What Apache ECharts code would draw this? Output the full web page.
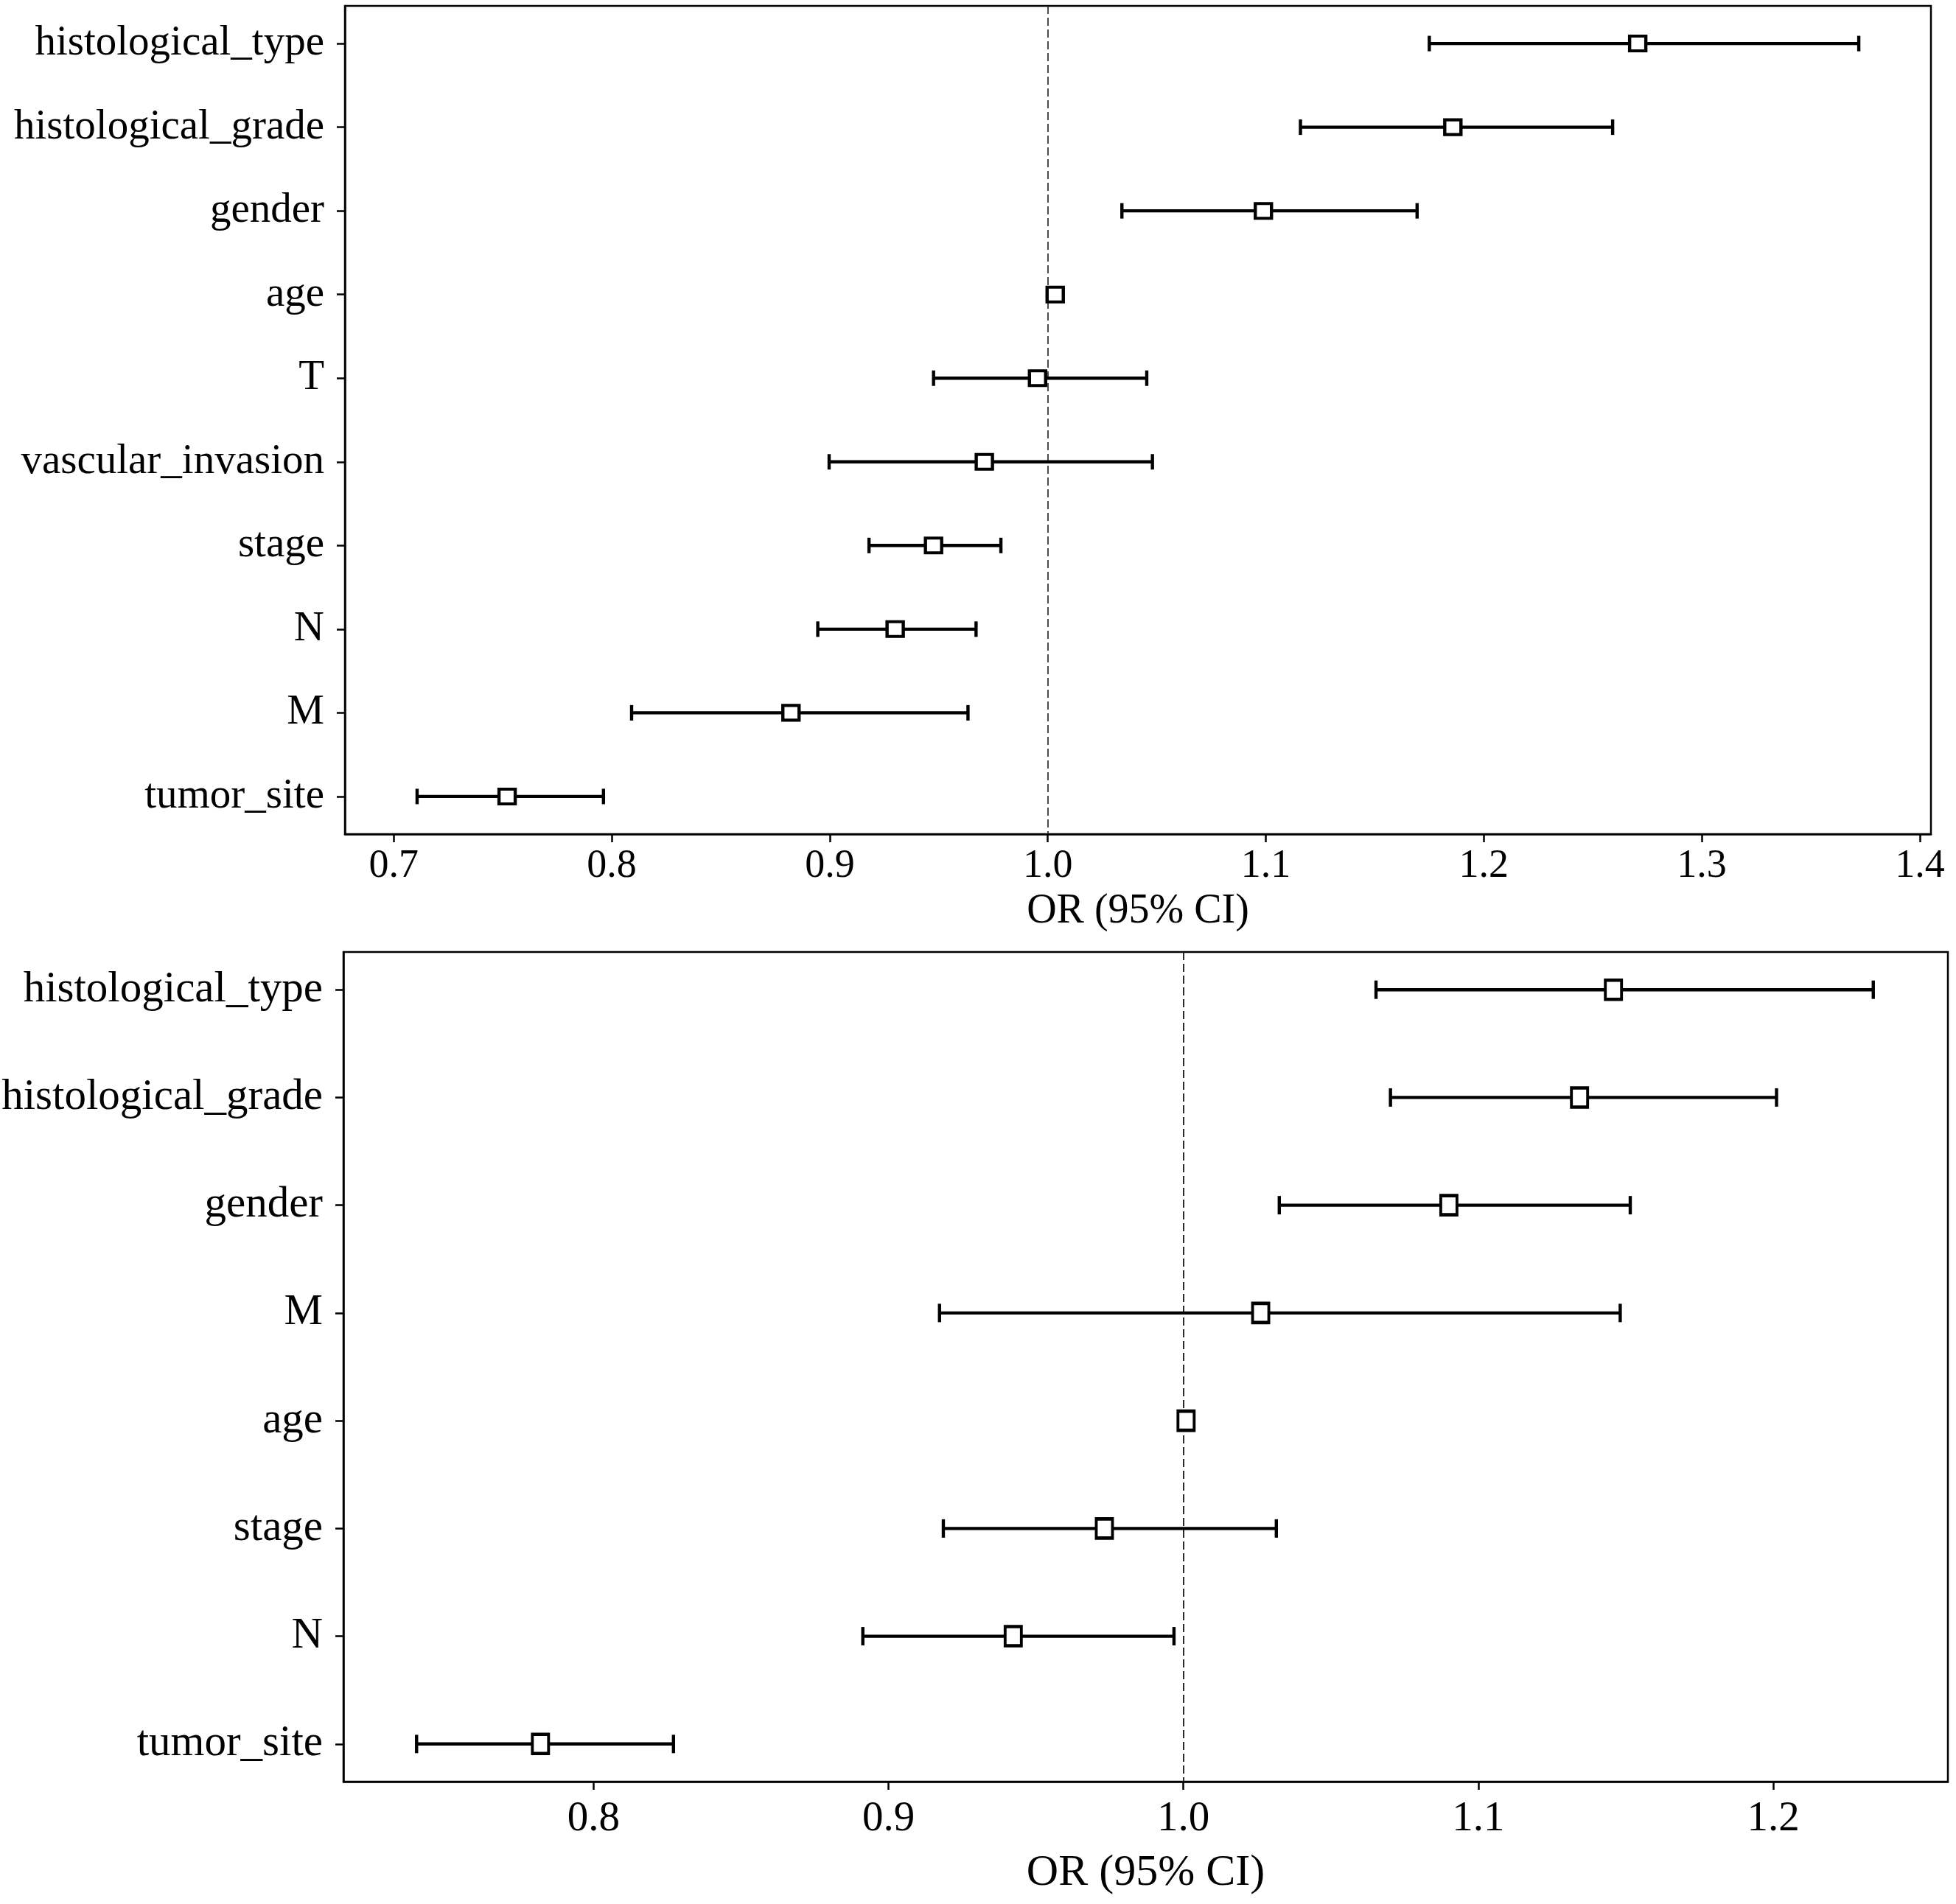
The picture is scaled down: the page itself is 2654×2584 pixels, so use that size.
<!DOCTYPE html>
<html lang="en">
<head>
    <meta charset="UTF-8">
    <title>OR forest plots</title>
    <style>
        html, body {margin: 0; padding: 0; background: #fff;}
        #main {width: 2654px; height: 2584px;}
    </style>
</head>
<body>
<div id="main"></div>
<script src="https://cdn.jsdelivr.net/npm/echarts@6/dist/echarts.min.js"></script>
<script type="text/javascript">
// upper panel, listed top to bottom
var topCats = ['histological_type', 'histological_grade', 'gender', 'age', 'T',
    'vascular_invasion', 'stage', 'N', 'M', 'tumor_site'];
var topOR   = [1.2706, 1.1858, 1.0989, 1.0034, 0.9953, 0.9709, 0.9476, 0.9300, 0.8822, 0.7520];
var topLow  = [1.1750, 1.1159, 1.0340, 1.0010, 0.9476, 0.8997, 0.9180, 0.8945, 0.8091, 0.7107];
var topHigh = [1.3720, 1.2591, 1.1694, 1.0060, 1.0454, 1.0480, 0.9785, 0.9671, 0.9634, 0.7962];
var topTicks = [0.7, 0.8, 0.9, 1.0, 1.1, 1.2, 1.3, 1.4];

// lower panel, listed top to bottom
var botCats = ['histological_type', 'histological_grade', 'gender', 'M', 'age',
    'stage', 'N', 'tumor_site'];
var botOR   = [1.1458, 1.1343, 1.0900, 1.0262, 1.0009, 0.9732, 0.9423, 0.7820];
var botLow  = [1.0653, 1.0702, 1.0325, 0.9173, 0.9990, 0.9186, 0.8913, 0.7400];
var botHigh = [1.2339, 1.2011, 1.1515, 1.1481, 1.0030, 1.0315, 0.9968, 0.8271];
var botTicks = [0.8, 0.9, 1.0, 1.1, 1.2];

var FONT = 'Liberation Serif';

function range(n) {
    var a = [];
    for (var i = 0; i < n; i++) a.push(i);
    return a;
}

// horizontal error bar with end caps
function errBar(capHalf, lw) {
    return function (params, api) {
        var y = api.value(2);
        var a = api.coord([api.value(0), y]);
        var b = api.coord([api.value(1), y]);
        var st = {stroke: '#000', lineWidth: lw};
        return {
            type: 'group',
            children: [
                {type: 'line', shape: {x1: a[0], y1: a[1], x2: b[0], y2: b[1]}, style: st},
                {type: 'line', shape: {x1: a[0], y1: a[1] - capHalf, x2: a[0], y2: a[1] + capHalf}, style: st},
                {type: 'line', shape: {x1: b[0], y1: b[1] - capHalf, x2: b[0], y2: b[1] + capHalf}, style: st}
            ]
        };
    };
}

function xAxisOf(idx, min, max, ticks, labelSize, labelMargin, nameSize, nameGap) {
    return {
        type: 'value', gridIndex: idx, min: min, max: max,
        name: 'OR (95% CI)', nameLocation: 'middle', nameGap: nameGap,
        nameTextStyle: {fontFamily: FONT, fontSize: nameSize, color: '#000'},
        axisLine: {show: true, onZero: false, lineStyle: {color: '#000', width: 2.5}},
        axisTick: {show: true, length: 11, customValues: ticks, lineStyle: {color: '#000', width: 2.5}},
        axisLabel: {
            customValues: ticks, margin: labelMargin,
            fontFamily: FONT, fontSize: labelSize, color: '#000',
            formatter: function (v) { return v.toFixed(1); }
        },
        splitLine: {show: false}
    };
}

function yAxisOf(idx, cats, pad, labelSize) {
    return {
        type: 'value', gridIndex: idx, inverse: true,
        min: -pad, max: cats.length - 1 + pad,
        axisLine: {show: true, onZero: false, lineStyle: {color: '#000', width: 2.5}},
        axisTick: {show: true, length: 11, customValues: range(cats.length), lineStyle: {color: '#000', width: 2.5}},
        axisLabel: {
            customValues: range(cats.length), margin: 28,
            fontFamily: FONT, fontSize: labelSize, color: '#000',
            formatter: function (v) { return cats[v]; }
        },
        splitLine: {show: false}
    };
}

function panel(idx, ors, lows, highs, capHalf, lw, markSize, dashW) {
    return [
        {
            type: 'custom', xAxisIndex: idx, yAxisIndex: idx,
            renderItem: errBar(capHalf, lw),
            encode: {x: [0, 1], y: 2},
            data: lows.map(function (l, i) { return [l, highs[i], i]; }),
            z: 2, silent: true
        },
        {
            type: 'scatter', xAxisIndex: idx, yAxisIndex: idx,
            symbol: 'rect', symbolSize: markSize,
            itemStyle: {color: '#fff', borderColor: '#000', borderWidth: 4.2, opacity: 1},
            data: ors.map(function (v, i) { return [v, i]; }),
            z: 3, silent: true,
            markLine: {
                silent: true, symbol: 'none', label: {show: false},
                lineStyle: {color: '#222', width: dashW, type: [11, 5]},
                data: [{xAxis: 1}],
                z: 1
            }
        }
    ];
}

var chart = echarts.init(document.getElementById('main'));
chart.setOption({
    animation: false,
    backgroundColor: '#fff',
    grid: [
        {left: 468, right: 34, top: 8, height: 1124, outerBoundsMode: 'none',
            show: true, borderColor: '#000', borderWidth: 2.5},
        {left: 466, right: 11, top: 1292, height: 1126, outerBoundsMode: 'none',
            show: true, borderColor: '#000', borderWidth: 2.5}
    ],
    xAxis: [
        xAxisOf(0, 0.6776, 1.4051, topTicks, 54, 17, 56, 77),
        xAxisOf(1, 0.7152, 1.2592, botTicks, 57, 23, 60, 94)
    ],
    yAxis: [
        yAxisOf(0, topCats, 0.45, 57),
        yAxisOf(1, botCats, 0.35, 59)
    ],
    series: panel(0, topOR, topLow, topHigh, 10.5, 4.4, [22, 20], 1.6)
        .concat(panel(1, botOR, botLow, botHigh, 12.5, 4.4, [22, 26], 1.9))
});
</script>
</body>
</html>
